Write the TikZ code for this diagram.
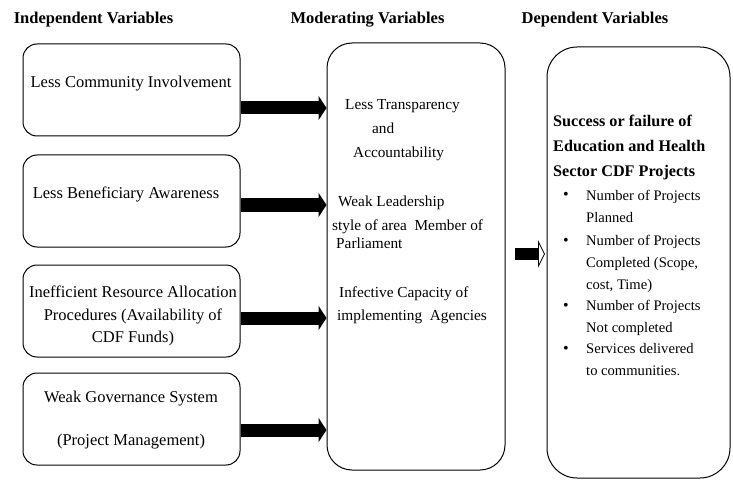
\documentclass[tikz,border=0pt]{standalone}
\usepackage{fontspec}
\setmainfont{Liberation Serif}
\usetikzlibrary{arrows.meta}

\tikzset{
  headtxt/.style={font=\fontsize{16.5}{18}\selectfont\bfseries,anchor=base,inner sep=0pt},
  ivbox/.style={draw,rounded corners=14pt,line width=1pt,minimum width=217pt,minimum height=92pt},
  ivtxt/.style={font=\fontsize{16.5}{22.5}\selectfont,align=center,inner sep=0pt},
  bigbox/.style={draw,rounded corners=#1,line width=1pt},
  mtxt/.style={font=\fontsize{15.3}{18}\selectfont,anchor=base west,inner sep=0pt},
  dtxt/.style={font=\fontsize{16.2}{25}\selectfont\bfseries,anchor=base west,inner sep=0pt},
  itxt/.style={font=\fontsize{14.6}{22}\selectfont,anchor=north west,inner sep=0pt,align=left},
  bul/.style={font=\fontsize{16}{18}\selectfont,anchor=base west,inner sep=0pt},
  fatarrow/.style={line width=13pt,-{Triangle[length=8pt,width=24pt]}}
}

\begin{document}
\begin{tikzpicture}[x=1pt,y=-1pt]
   \useasboundingbox (0,0) rectangle (733,481);

      \path (93.5,24) node[headtxt] (h1) {Independent Variables};
      \path (367.5,24) node[headtxt] (h2) {Moderating Variables};
      \path (595,24) node[headtxt] (h3) {Dependent Variables};

      \path (131.5,90) node[ivbox] (b1) {};
      \path (131.5,201) node[ivbox] (b2) {};
      \path (131.5,311) node[ivbox] (b3) {};
      \path (131.5,419) node[ivbox] (b4) {};

      \path (131,84) node[ivtxt] (t1) {Less Community Involvement};
      \path (126,194) node[ivtxt] (t2) {Less Beneficiary Awareness};
      \path (133,316) node[ivtxt] (t3) {Inefficient Resource Allocation\\ Procedures (Availability of\\ CDF Funds)};
      \path (131,420) node[ivtxt] (t4) {Weak Governance System\\[20pt] (Project Management)};

      \path (416,256.5) node[bigbox=25pt,minimum width=178pt,minimum height=427pt] (mid) {};
      \path (638.5,262.5) node[bigbox=30pt,minimum width=183pt,minimum height=431pt] (dep) {};

      \path (345,110) node[mtxt] (m1) {Less Transparency};
      \path (372,134) node[mtxt] (m2) {and};
      \path (353,158) node[mtxt] (m3) {Accountability};
      \path (338,207) node[mtxt] (m4) {Weak Leadership};
      \path (332,230) node[mtxt] (m5) {style of area\ \ Member of};
      \path (336,248) node[mtxt] (m6) {Parliament};
      \path (339,297) node[mtxt] (m7) {Infective Capacity of};
      \path (337,320) node[mtxt] (m8) {implementing\ \ Agencies};

      \path (553,127) node[dtxt] (d1) {Success or failure of};
      \path (553,152) node[dtxt] (d2) {Education and Health};
      \path (553,177) node[dtxt] (d3) {Sector CDF Projects};

      \path (563,200) node[bul] (p1) {\textbullet};
      \path (563,245) node[bul] (p2) {\textbullet};
      \path (563,310) node[bul] (p3) {\textbullet};
      \path (563,353) node[bul] (p4) {\textbullet};
      \path (586,190) node[itxt] (i1) {Number of Projects\\ Planned};
      \path (586,235) node[itxt] (i2) {Number of Projects\\ Completed (Scope,\\ cost, Time)};
      \path (586,300) node[itxt] (i3) {Number of Projects\\ Not completed};
      \path (586,343) node[itxt] (i4) {Services delivered\\ to communities.};

      \draw[fatarrow] ([yshift=-18pt]b1.east) -- ([yshift=-18pt]b1.east -| mid.west);
      \draw[fatarrow] ([yshift=-4pt]b2.east) -- ([yshift=-4pt]b2.east -| mid.west);
      \draw[fatarrow] ([yshift=-7pt]b3.east) -- ([yshift=-7pt]b3.east -| mid.west);
      \draw[fatarrow] ([yshift=-11pt]b4.east) -- ([yshift=-11pt]b4.east -| mid.west);

      \coordinate (ma) at ([xshift=9pt]mid.east |- 0,254);
      \coordinate (mb) at ([xshift=-8pt]dep.west |- 0,254);
      \draw[line width=12pt] (ma) -- (mb);
      \draw[fill=white,line width=.8pt] ([yshift=12pt]mb) -- ([xshift=6pt]mb) -- ([yshift=-12pt]mb) -- cycle;

   \end{tikzpicture}
\end{document}
